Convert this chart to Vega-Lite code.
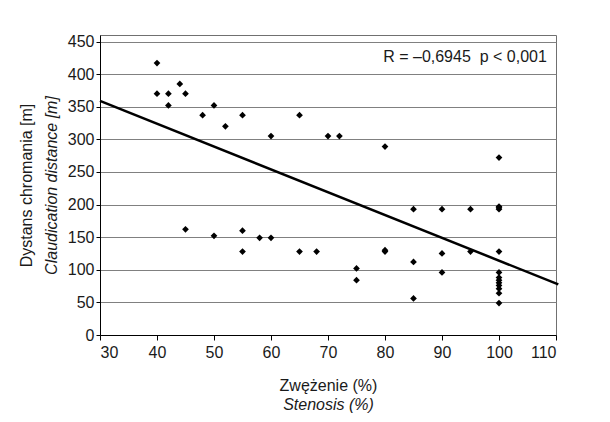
{
  "$schema": "https://vega.github.io/schema/vega-lite/v6.json",
  "width": 456,
  "height": 300,
  "autosize": "none",
  "padding": {"left": 100, "top": 35, "right": 54, "bottom": 87},
  "background": "white",
  "config": {
    "font": "Liberation Sans",
    "view": {"stroke": "#707070", "strokeWidth": 1},
    "axis": {
      "labelFontSize": 16,
      "titleFontSize": 16,
      "titleFontWeight": "normal",
      "labelColor": "#1a1a1a",
      "titleColor": "#1a1a1a",
      "domainColor": "black",
      "tickColor": "black",
      "labelFont": "Liberation Sans",
      "titleFont": "Liberation Sans"
    }
  },
  "datasets": {
    "points": [
      {"stenosis": 40, "distance": 417}, {"stenosis": 40, "distance": 370}, {"stenosis": 42, "distance": 370}, {"stenosis": 42, "distance": 352},
      {"stenosis": 44, "distance": 385}, {"stenosis": 45, "distance": 370}, {"stenosis": 48, "distance": 337}, {"stenosis": 50, "distance": 352},
      {"stenosis": 52, "distance": 320}, {"stenosis": 55, "distance": 337}, {"stenosis": 60, "distance": 305}, {"stenosis": 65, "distance": 337},
      {"stenosis": 70, "distance": 305}, {"stenosis": 72, "distance": 305}, {"stenosis": 80, "distance": 289}, {"stenosis": 100, "distance": 272},
      {"stenosis": 85, "distance": 193}, {"stenosis": 90, "distance": 193}, {"stenosis": 95, "distance": 193}, {"stenosis": 100, "distance": 197},
      {"stenosis": 100, "distance": 195}, {"stenosis": 100, "distance": 193},
      {"stenosis": 45, "distance": 162}, {"stenosis": 50, "distance": 152}, {"stenosis": 55, "distance": 160}, {"stenosis": 55, "distance": 128},
      {"stenosis": 58, "distance": 149}, {"stenosis": 60, "distance": 149}, {"stenosis": 65, "distance": 128}, {"stenosis": 68, "distance": 128},
      {"stenosis": 80, "distance": 130}, {"stenosis": 80, "distance": 128}, {"stenosis": 75, "distance": 102}, {"stenosis": 75, "distance": 84},
      {"stenosis": 85, "distance": 112}, {"stenosis": 85, "distance": 56}, {"stenosis": 90, "distance": 125}, {"stenosis": 90, "distance": 96},
      {"stenosis": 95, "distance": 128}, {"stenosis": 100, "distance": 128},
      {"stenosis": 100, "distance": 96}, {"stenosis": 100, "distance": 88}, {"stenosis": 100, "distance": 84}, {"stenosis": 100, "distance": 80},
      {"stenosis": 100, "distance": 76}, {"stenosis": 100, "distance": 71}, {"stenosis": 100, "distance": 64}, {"stenosis": 100, "distance": 49}
    ],
    "fit": [
      {"stenosis": 30, "distance": 359},
      {"stenosis": 110.4, "distance": 77.6}
    ],
    "note": [
      {"stenosis": 108.4, "distance": 426.5, "label": "R = –0,6945 \u00a0p < 0,001"}
    ]
  },
  "layer": [
    {
      "data": {"name": "points"},
      "mark": {"type": "point", "shape": "diamond", "filled": true, "color": "black", "size": 45, "opacity": 1},
      "encoding": {
        "x": {
          "field": "stenosis", "type": "quantitative",
          "scale": {"domain": [30, 110], "nice": false, "zero": false},
          "axis": {
            "orient": "bottom",
            "title": "Zwężenie (%)",
            "values": [30, 40, 50, 60, 70, 80, 90, 100, 110],
            "grid": false, "tickSize": 5, "labelPadding": 4, "titlePadding": 17
          }
        },
        "y": {
          "field": "distance", "type": "quantitative",
          "scale": {"domain": [0, 460], "nice": false},
          "axis": {
            "orient": "left",
            "title": "Claudication distance [m]",
            "titleFontStyle": "italic",
            "values": [0, 50, 100, 150, 200, 250, 300, 350, 400, 450],
            "grid": true, "gridColor": "#808080", "gridOpacity": 1,
            "tickSize": 4, "labelPadding": 2, "titlePadding": 8
          }
        }
      }
    },
    {
      "data": {"name": "fit"},
      "mark": {"type": "line", "color": "black", "strokeWidth": 2.5, "clip": false},
      "encoding": {
        "x": {
          "field": "stenosis", "type": "quantitative",
          "scale": {"domain": [30, 110], "nice": false, "zero": false},
          "axis": {
            "orient": "bottom",
            "title": "Stenosis (%)",
            "titleFontStyle": "italic",
            "labels": false, "ticks": false, "domain": false, "grid": false, "titlePadding": 61
          }
        },
        "y": {
          "field": "distance", "type": "quantitative",
          "scale": {"domain": [0, 460], "nice": false},
          "axis": {
            "orient": "left",
            "title": "Dystans chromania [m]",
            "labels": false, "ticks": false, "domain": false, "grid": false, "titlePadding": 66
          }
        }
      }
    },
    {
      "data": {"name": "note"},
      "mark": {"type": "text", "align": "right", "baseline": "middle", "fontSize": 16, "color": "#1a1a1a", "font": "Liberation Sans"},
      "encoding": {
        "x": {"field": "stenosis", "type": "quantitative", "scale": {"domain": [30, 110], "nice": false, "zero": false}, "axis": null},
        "y": {"field": "distance", "type": "quantitative", "scale": {"domain": [0, 460], "nice": false}, "axis": null},
        "text": {"field": "label"}
      }
    },
    {
      "mark": {"type": "rule", "color": "#707070", "strokeWidth": 1, "clip": false},
      "encoding": {
        "x": {"datum": 14.2, "type": "quantitative", "scale": {"domain": [30, 110], "nice": false, "zero": false}, "axis": null},
        "x2": {"datum": 125},
        "y": {"datum": 495.3, "type": "quantitative", "scale": {"domain": [0, 460], "nice": false}, "axis": null}
      }
    },
    {
      "mark": {"type": "rule", "color": "#707070", "strokeWidth": 1, "clip": false},
      "encoding": {
        "x": {"datum": 14.2, "type": "quantitative", "scale": {"domain": [30, 110], "nice": false, "zero": false}, "axis": null},
        "y": {"datum": 495.3, "type": "quantitative", "scale": {"domain": [0, 460], "nice": false}, "axis": null},
        "y2": {"datum": -140}
      }
    }
  ],
  "resolve": {
    "scale": {"x": "independent", "y": "independent"},
    "axis": {"x": "independent", "y": "independent"}
  }
}
